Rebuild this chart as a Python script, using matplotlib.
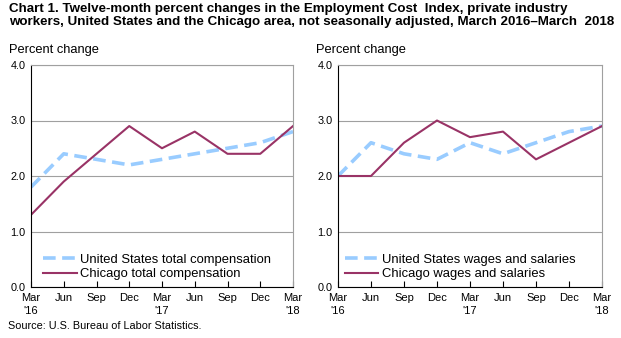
import matplotlib.pyplot as plt

plt.rcParams['font.family'] = ['Liberation Sans', 'DejaVu Sans']

quarters = ["Mar\n'16", "Jun", "Sep", "Dec", "Mar\n'17", "Jun", "Sep", "Dec", "Mar\n'18"]
us_total = [1.8, 2.4, 2.3, 2.2, 2.3, 2.4, 2.5, 2.6, 2.8]
chi_total = [1.3, 1.9, 2.4, 2.9, 2.5, 2.8, 2.4, 2.4, 2.9]
us_wages = [2.0, 2.6, 2.4, 2.3, 2.6, 2.4, 2.6, 2.8, 2.9]
chi_wages = [2.0, 2.0, 2.6, 3.0, 2.7, 2.8, 2.3, 2.6, 2.9]

W, H = 621, 338
fig = plt.figure(figsize=(W / 100, H / 100), dpi=100)

fig.text(9 / W, 1 - 3 / H,
         "Chart 1. Twelve-month percent changes in the Employment Cost  Index, private industry\n"
         "workers, United States and the Chicago area, not seasonally adjusted, March 2016\u2013March  2018",
         fontsize=9.6, fontweight='bold', va='top', ha='left', linespacing=1.1)

panels = [
    (31, 293, 0.02, us_total, chi_total, "United States total compensation", "Chicago total compensation"),
    (338, 602, 0.0, us_wages, chi_wages, "United States wages and salaries", "Chicago wages and salaries"),
]

x = list(range(len(quarters)))
for left, right, lx, us, chi, us_lab, chi_lab in panels:
    top, bottom = 65, 287
    ax = fig.add_axes([left / W, 1 - bottom / H, (right - left) / W, (bottom - top) / H])
    ax.plot(x, us, color='#99ccff', lw=2.6, dashes=(3.5, 1.8), label=us_lab)
    ax.plot(x, chi, color='#993366', lw=1.5, label=chi_lab)
    ax.set_xlim(0, 8)
    ax.set_ylim(0, 4)
    ax.set_yticks([0, 1, 2, 3, 4])
    ax.set_yticklabels(["0.0", "1.0", "2.0", "3.0", "4.0"], fontsize=7.8)
    ax.set_xticks(x)
    ax.set_xticklabels(quarters, fontsize=8, linespacing=1.45)
    ax.tick_params(axis='x', direction='in', length=4, width=0.8, pad=4)
    ax.tick_params(axis='y', length=0, pad=4)
    ax.grid(axis='y', color='#a0a0a0', lw=0.8)
    ax.set_axisbelow(True)
    for s in ['top', 'right']:
        ax.spines[s].set_color('#a0a0a0')
        ax.spines[s].set_linewidth(0.8)
    for s in ['left', 'bottom']:
        ax.spines[s].set_color('black')
        ax.spines[s].set_linewidth(0.8)
    ax.legend(loc='lower left', frameon=False, fontsize=9.4, handlelength=2.6,
              handletextpad=0.25, borderaxespad=0.1, labelspacing=0.2,
              bbox_to_anchor=(lx, 0.0))
    fig.text((left - 22) / W, 1 - 50 / H, "Percent change", fontsize=9.3, va='center', ha='left')

fig.text(8 / W, 1 - 326 / H, "Source: U.S. Bureau of Labor Statistics.", fontsize=7.8,
         va='center', ha='left')

fig.savefig("out.png", dpi=100)
